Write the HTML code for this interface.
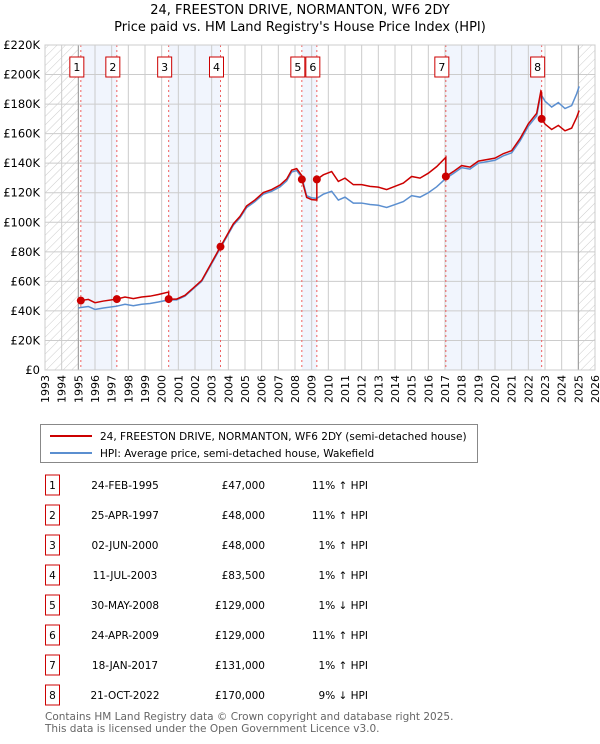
<!DOCTYPE html>
<html><head><meta charset="utf-8">
<style>
body{margin:0;background:#fff;font-family:"DejaVu Sans","Liberation Sans",sans-serif;}
svg text{font-family:"DejaVu Sans","Liberation Sans",sans-serif;}
</style></head>
<body>
<svg id="chart" width="600" height="740" xmlns="http://www.w3.org/2000/svg">
<defs><pattern id="hatch" width="6" height="6" patternUnits="userSpaceOnUse" patternTransform="rotate(45)"><line x1="0" y1="0" x2="0" y2="6" stroke="#ccc" stroke-width="1"/></pattern></defs>
<text x="300" y="14" text-anchor="middle" font-size="13">24, FREESTON DRIVE, NORMANTON, WF6 2DY</text>
<text x="300" y="31" text-anchor="middle" font-size="13">Price paid vs. HM Land Registry's House Price Index (HPI)</text>
<g id="plot"></g>
<g>
<rect x="40.5" y="424.5" width="437" height="38" fill="#fff" stroke="#888"/>
<line x1="50" y1="436" x2="92" y2="436" stroke="#cc0000" stroke-width="2"/>
<text x="100" y="440" font-size="10.5">24, FREESTON DRIVE, NORMANTON, WF6 2DY (semi-detached house)</text>
<line x1="50" y1="453" x2="92" y2="453" stroke="#5b8fd0" stroke-width="2"/>
<text x="100" y="457" font-size="10.5">HPI: Average price, semi-detached house, Wakefield</text>
</g>
<g id="table" font-size="10.5"></g>
<text x="45" y="720" font-size="10.5" fill="#666">Contains HM Land Registry data © Crown copyright and database right 2025.</text>
<text x="45" y="732" font-size="10.5" fill="#666">This data is licensed under the Open Government Licence v3.0.</text>
</svg>
<script>
const yTicks=[0,20,40,60,80,100,120,140,160,180,200,220];
const years=[];for(let y=1993;y<=2026;y++)years.push(y);
const hpiT=[1995.0,1995.15,1995.6,1996.0,1996.5,1997.3,1997.8,1998.3,1998.8,1999.3,1999.8,2000.42,2000.9,2001.4,2001.9,2002.4,2002.9,2003.2,2003.53,2003.9,2004.3,2004.7,2005.1,2005.6,2006.1,2006.6,2007.1,2007.5,2007.8,2008.1,2008.41,2008.7,2009.0,2009.31,2009.7,2010.2,2010.6,2011.0,2011.5,2012.0,2012.5,2013.0,2013.5,2014.0,2014.5,2015.0,2015.5,2016.0,2016.5,2017.05,2017.5,2018.0,2018.5,2019.0,2019.5,2020.0,2020.5,2021.0,2021.5,2022.0,2022.5,2022.75,2023.0,2023.4,2023.8,2024.2,2024.6,2024.9,2025.05];
const hpiV=[42.0,42.3,43.0,41.0,42.0,43.2,44.5,43.5,44.5,45.0,46.0,47.5,47.5,50.0,55.0,60.0,70.0,76.0,82.7,90.0,98.0,103.0,110.0,114.0,119.0,121.0,124.0,128.0,134.0,135.0,130.3,118.0,116.5,116.2,119.0,121.0,115.0,117.0,113.0,113.0,112.0,111.5,110.0,112.0,114.0,118.0,117.0,120.0,124.0,129.7,133.0,137.0,136.0,140.0,141.0,142.0,145.0,147.0,155.0,165.0,172.0,186.8,182.0,178.0,181.0,177.0,179.0,187.0,192.0];
const saleT=[1995.15,1997.31,2000.42,2003.53,2008.41,2009.31,2017.05,2022.8];
const salePrice=[47000,48000,48000,83500,129000,129000,131000,170000];
const saleDate=["24-FEB-1995","25-APR-1997","02-JUN-2000","11-JUL-2003","30-MAY-2008","24-APR-2009","18-JAN-2017","21-OCT-2022"];
const saleRel=["11% \u2191 HPI","11% \u2191 HPI","1% \u2191 HPI","1% \u2191 HPI","1% \u2193 HPI","11% \u2191 HPI","1% \u2191 HPI","9% \u2193 HPI"];

const X0=45,X1=595,Y0=370,Y1=45;
const xs=t=>X0+(t-1993)*(X1-X0)/33;
const ys=v=>Y0-v*(Y0-Y1)/220;
const NS="http://www.w3.org/2000/svg";
const plot=document.getElementById('plot');
function mk(tag,attrs,parent){const e=document.createElementNS(NS,tag);for(const k in attrs)e.setAttribute(k,attrs[k]);(parent||plot).appendChild(e);return e;}
function hpiAt(t){for(let i=1;i<hpiT.length;i++){if(t<=hpiT[i]){const f=(t-hpiT[i-1])/(hpiT[i]-hpiT[i-1]);return hpiV[i-1]+f*(hpiV[i]-hpiV[i-1]);}}return hpiV[hpiV.length-1];}
for(let i=0;i<saleT.length;i+=2){const a=saleT[i],b=i+1<saleT.length?saleT[i+1]:2025;
const r=mk('rect',{x:xs(a),y:Y1,width:xs(b)-xs(a),height:Y0-Y1,fill:'#eef3fc',opacity:0.8});

}
const h1=mk('rect',{x:X0,y:Y1,width:xs(1995)-X0,height:Y0-Y1,fill:'url(#hatch)'});


const h2=mk('rect',{x:xs(2025),y:Y1,width:X1-xs(2025),height:Y0-Y1,fill:'url(#hatch)'});


years.forEach(y=>{const l=mk('line',{x1:xs(y),x2:xs(y),y1:Y1,y2:Y0,stroke:'#ccc','stroke-width':1});


const t=mk('text',{x:0,y:0,'font-size':11,'text-anchor':'end',transform:`translate(${xs(y)+4},375) rotate(-90)`});t.textContent=y;

});
yTicks.forEach(v=>{const l=mk('line',{x1:X0,x2:X1,y1:ys(v),y2:ys(v),stroke:'#ccc','stroke-width':1});


const t=mk('text',{x:40,y:ys(v)+4,'font-size':11.5,'text-anchor':'end'});t.textContent=v===0?'£0':'£'+v+'K';

});
mk('line',{x1:xs(1995),x2:xs(1995),y1:Y1,y2:Y0,stroke:'#999'});
mk('line',{x1:xs(2025),x2:xs(2025),y1:Y1,y2:Y0,stroke:'#999'});
saleT.forEach(t=>{const l=mk('line',{x1:xs(t),x2:xs(t),y1:Y1,y2:Y0,stroke:'#f06060','stroke-dasharray':'2,3'});

});
const hp=mk('polyline',{points:hpiT.map((t,i)=>xs(t)+','+ys(hpiV[i])).join(' '),fill:'none',stroke:'#5b8fd0','stroke-width':1.5});


let pts=[];
for(let i=0;i<saleT.length;i++){const f=salePrice[i]/1000/hpiAt(saleT[i]);const end=i+1<saleT.length?saleT[i+1]:2025.05;
pts.push([saleT[i],salePrice[i]/1000]);
hpiT.forEach((t,j)=>{if(t>saleT[i]&&t<end)pts.push([t,hpiV[j]*f]);});
pts.push([end,hpiAt(end)*f]);}
const rl=mk('polyline',{points:pts.map(p=>xs(p[0])+','+ys(p[1])).join(' '),fill:'none',stroke:'#cc0000','stroke-width':1.5});


saleT.forEach((t,i)=>{const c=mk('circle',{cx:xs(t),cy:ys(salePrice[i]/1000),r:4,fill:'#cc0000'});


const g=mk('g',{});


mk('rect',{x:xs(t)-11,y:57,width:14,height:20,fill:'#fff',stroke:'#cc0000'},g);
const tx=mk('text',{x:xs(t)-4,y:71,'font-size':11,'text-anchor':'middle'},g);tx.textContent=i+1;});
mk('rect',{x:X0,y:Y1,width:X1-X0,height:Y0-Y1,fill:'none',stroke:'#ccc'});
const tb=document.getElementById('table');
saleT.forEach((t,i)=>{const y=485+i*30;
const g=mk('g',{},tb);


mk('rect',{x:45.5,y:y-10,width:14,height:20,fill:'#fff',stroke:'#cc0000'},g);
let e=mk('text',{x:52.5,y:y+4,'text-anchor':'middle'},g);e.textContent=i+1;
e=mk('text',{x:125,y:y+4,'text-anchor':'middle'},g);e.textContent=saleDate[i];
e=mk('text',{x:265,y:y+4,'text-anchor':'end'},g);e.textContent='£'+salePrice[i].toLocaleString('en-GB');
e=mk('text',{x:368,y:y+4,'text-anchor':'end'},g);e.textContent=saleRel[i];});
</script>
</body></html>
